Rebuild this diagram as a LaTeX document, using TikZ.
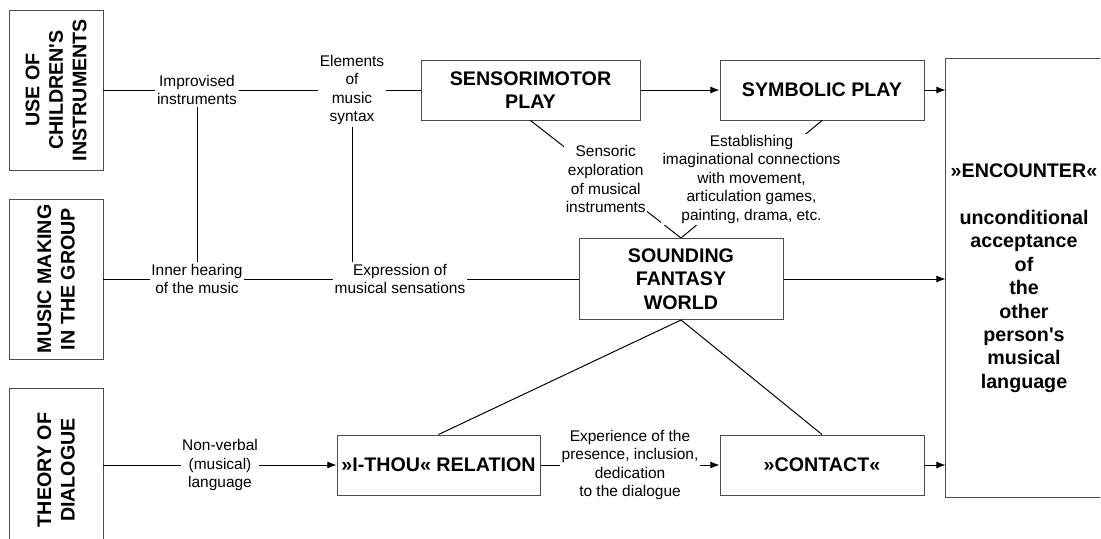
\documentclass[tikz,border=0pt]{standalone}
\usepackage{fontspec}
\setmainfont{Liberation Sans}
\usepackage{tikz}
\usetikzlibrary{arrows.meta, positioning}
\tikzstyle{block} = [rectangle, draw=black!70, line width=0.7pt, align=center, inner sep=2pt, font=\bfseries\fontsize{14}{16.7}\selectfont]
\tikzstyle{play} = [block, minimum width=51mm, minimum height=15mm]
\tikzstyle{source} = [block, rotate=90, minimum width=40mm, minimum height=23.5mm]
\tikzstyle{lbl} = [fill=white, align=center, inner sep=1pt, font=\fontsize{11}{13.2}\selectfont]
\tikzstyle{line} = [line width=0.7pt]
\tikzstyle{arrow} = [line, -{Latex[length=6.5pt,width=5pt]}]

\begin{document}
\begin{tikzpicture}[x=0.25mm, y=-0.25mm, node distance=19.75mm]
    \useasboundingbox (0,0) rectangle (1101,539);

    % the three sources
    \node[source] (uci) at (56,90) {USE OF\\CHILDREN\textquotesingle S\\INSTRUMENTS};
    \node[source] (mmg) at (56,279) {MUSIC MAKING\\IN THE GROUP};
    \node[source, minimum width=41mm] (tod) at (56,470) {THEORY OF\\DIALOGUE};

    % play and relation boxes
    \node[play, minimum width=54.75mm] (sm) at (530.5,90) {SENSORIMOTOR\\PLAY};
    \node[play, right=of sm] (sp) {SYMBOLIC PLAY};
    \node[play, minimum height=20.25mm] (sfw) at (681,279) {SOUNDING\\FANTASY\\WORLD};
    \node[play, minimum width=50.75mm] (it) at (438.5,465) {»I-THOU« RELATION};
    \node[play, right=44.75mm of it] (ct) {»CONTACT«};
    \node[block, draw=none, minimum width=39mm, minimum height=109.5mm] (enc) at (1024,278) {»ENCOUNTER«\\[16.7pt]unconditional\\acceptance\\of\\the\\other\\person\textquotesingle s\\musical\\language};
    % its right edge lies off the page
    \draw[line, black!70] (enc.north west) ++(154,0) -- (enc.north west) -- (enc.south west) -- ++(154,0);

    % labels on the left
    \node[lbl] (impr) at (197,90) {Improvised\\instruments};
    \node[lbl] (elem) at (352,90) {Elements\\of\\music\\syntax};
    \node[lbl] (ih) at (197,279) {Inner hearing\\of the music};
    \node[lbl] (expr) at (400,279) {Expression of\\musical sensations};

    \draw[line] (uci) -- (impr);
    \draw[line] (impr) -- (elem);
    \draw[line] (elem) -- (sm);
    \draw[line] (impr) -- (ih);
    \draw[line] (elem) -- (elem |- expr.north);
    \draw[line] (mmg) -- (ih);
    \draw[line] (ih) -- (expr);
    \draw[line] (expr) -- (sfw);

    \draw[arrow] (sm) -- (sp);
    \draw[arrow] (sp) -- (sp -| enc.west);
    \draw[arrow] (sfw) -- (sfw -| enc.west);
    \draw[arrow] (ct) -- (ct -| enc.west);

    \draw[line] (sm.south) -- node[lbl] {Sensoric\\exploration\\of musical\\instruments} (sfw.north);
    \draw[line] (sp.south) -- node[lbl] {Establishing\\imaginational connections\\with movement,\\articulation games,\\painting, drama, etc.} (sfw.north);
    \draw[line] (sfw.south) -- (it.north);
    \draw[line] (sfw.south) -- (ct.north);

    \draw[arrow] (tod.south |- it) -- node[lbl] {Non-verbal\\(musical)\\language} (it);
    \draw[arrow] (it) -- node[lbl] {Experience of the\\presence, inclusion,\\dedication\\to the dialogue} (ct);
\end{tikzpicture}
\end{document}
